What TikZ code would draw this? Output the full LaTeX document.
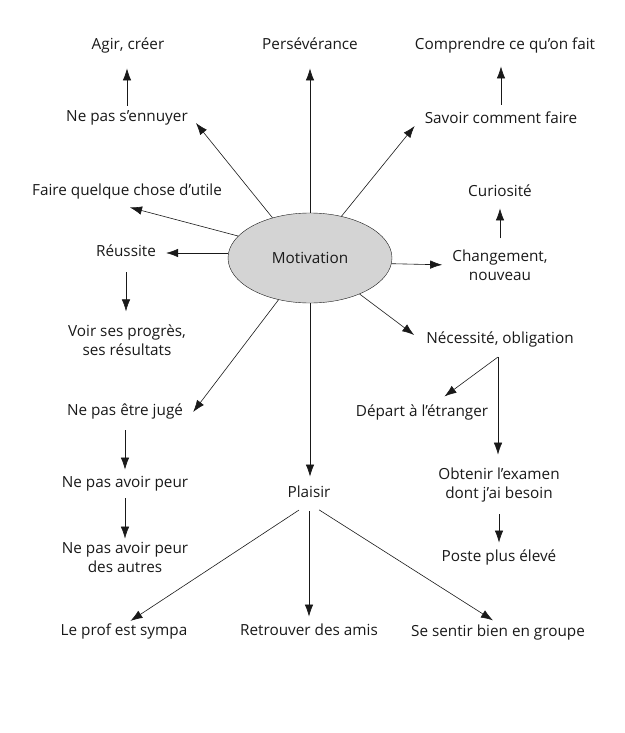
\documentclass[tikz,border=0pt]{standalone}
\usepackage{fontspec}
\setmainfont{Open Sans}
\usepackage{tikz}
\usetikzlibrary{arrows.meta,calc,shapes.geometric}
\definecolor{ink}{gray}{0.1}
\tikzset{
    idea-box/.style = {font=\fontsize{15.3}{19}\selectfont, text=ink, inner sep=2pt, text height=11pt, text depth=3.5pt},
    idea-box-two/.style = {font=\fontsize{15.3}{19}\selectfont, text=ink, inner sep=2pt, align=center},
    main-ellipse/.style = {draw=ink, fill=black!17, thin, ellipse, minimum width=164pt, minimum height=90pt, inner sep=0pt, font=\fontsize{15.3}{19}\selectfont, text=ink},
    link-arrow/.style = {draw=ink, line width=0.6pt, -{Latex[length=12pt,width=8.5pt]}},
}
\begin{document}
\begin{tikzpicture}[x=1pt, y=-1pt]
\useasboundingbox (0,0) rectangle (624,733);
\node [main-ellipse] (motiv) at (310,258) {Motivation};
\node [idea-box] (agir) at (128,46) {Agir, créer};
\node [idea-box] (perse) at (310,46) {Persévérance};
\node [idea-box] (compr) at (505,46) {Comprendre ce qu’on fait};
\node [idea-box] (ennui) at (127,118) {Ne pas s’ennuyer};
\node [idea-box] (savoir) at (501,120) {Savoir comment faire};
\node [idea-box] (utile) at (127,192) {Faire quelque chose d’utile};
\node [idea-box] (curio) at (500,193) {Curiosité};
\node [idea-box] (reuss) at (126,253) {Réussite};
\node [idea-box-two] (chang) at (500,265) {Changement,\\nouveau};
\node [idea-box-two] (progr) at (127,340) {Voir ses progrès,\\ses résultats};
\node [idea-box] (neces) at (500,340) {Nécessité, obligation};
\coordinate (fork) at (498,357);
\node [idea-box] (juge) at (125,412) {Ne pas être jugé};
\node [idea-box] (depart) at (422,413) {Départ à l’étranger};
\node [idea-box] (peur) at (125,484) {Ne pas avoir peur};
\node [idea-box-two] (examen) at (499,485) {Obtenir l’examen\\dont j’ai besoin};
\node [idea-box] (plaisir) at (309,494) {Plaisir};
\node [idea-box-two] (autres) at (125,557) {Ne pas avoir peur\\des autres};
\node [idea-box] (poste) at (499,558) {Poste plus élevé};
\node [idea-box] (prof) at (124,632) {Le prof est sympa};
\node [idea-box] (amis) at (309,632) {Retrouver des amis};
\node [idea-box] (groupe) at (498,633) {Se sentir bien en groupe};

\draw [link-arrow, shorten >=13pt] (motiv.north) -- (perse.south);
\draw [link-arrow] (motiv.133) -- ($(ennui.east)+(6,5)$);
\draw [link-arrow] (motiv.53) -- ($(savoir.west)+(-8,6)$);
\draw [link-arrow] (motiv.163) -- ($(utile.south)+(3,6)$);
\draw [link-arrow, shorten >=8pt] (motiv.west |- reuss) -- (reuss.east);
\draw [link-arrow, shorten >=8pt] (motiv.-4) -- (chang.west);
\draw [link-arrow] (motiv.-36) -- ($(neces.west)+(-10,-5)$);
\draw [link-arrow] (motiv.233) -- ($(juge.east)+(8,0)$);
\draw [link-arrow, shorten >=8pt] (motiv.south) -- (motiv.south |- plaisir.north);

\draw [link-arrow, shorten <=3pt, shorten >=13pt] (ennui.north) -- (ennui.north |- agir.south);
\draw [link-arrow, shorten <=6pt, shorten >=11pt] (savoir.north) -- (savoir.north |- compr.south);
\draw [link-arrow] ($(chang.north)+(0,-9)$) -- ($(curio.south)+(0,6)$);
\draw [link-arrow, shorten <=10pt, shorten >=11pt] (reuss.south) -- (reuss.south |- progr.north);
\draw [link-arrow, shorten <=9pt, shorten >=5pt] (juge.south) -- (juge.south |- peur.north);
\draw [link-arrow, shorten <=5pt, shorten >=1pt] (peur.south) -- (peur.south |- autres.north);
\draw [link-arrow, shorten >=12pt] (fork) -- (depart);
\draw [link-arrow, shorten >=11pt] (fork) -- (fork |- examen.north);
\draw [link-arrow, shorten <=10pt, shorten >=6pt] (examen.south) -- (examen.south |- poste.north);
\draw [link-arrow, shorten <=12pt, shorten >=3pt] (plaisir.south) -- ($(prof.north)+(4,0)$);
\draw [link-arrow, shorten <=8pt, shorten >=6pt] (plaisir.south) -- (amis.north);
\draw [link-arrow, shorten <=12pt, shorten >=6pt] (plaisir.south) -- (groupe.north);
\end{tikzpicture}
\end{document}
